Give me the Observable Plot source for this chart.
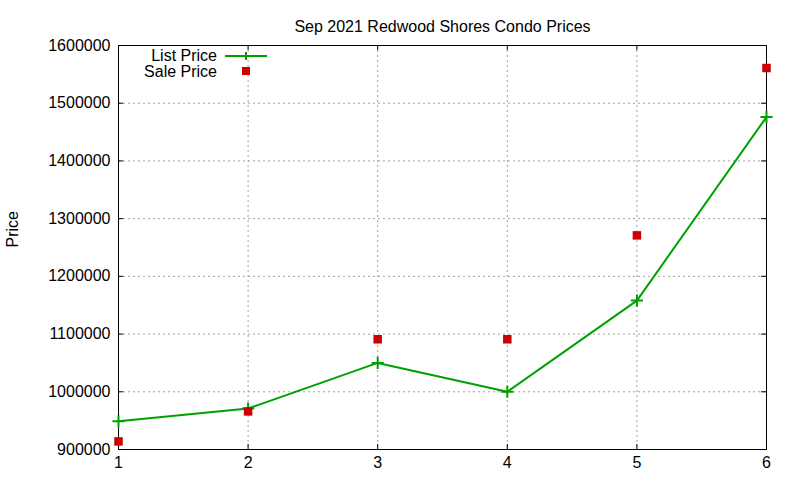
<!DOCTYPE html>
<html>
<head>
<meta charset="utf-8">
<script src="https://cdn.jsdelivr.net/npm/d3@7"></script>
<script src="https://cdn.jsdelivr.net/npm/@observablehq/plot@0.6"></script>
<style>
  html, body { margin: 0; padding: 0; background: #fff; }
  #wrap { position: relative; width: 800px; height: 480px; font-family: "Liberation Sans", Arial, sans-serif; }
  #legend { position: absolute; left: 100px; top: 45px; }
</style>
</head>
<body>
<div id="wrap">
  <div id="chart"></div>
  <svg id="legend" width="180" height="40"></svg>
</div>
<script>
const months = [1, 2, 3, 4, 5, 6];
const listPrice = [949000, 971000, 1050000, 1000000, 1158000, 1476000];
const salePrice = [914000, 966000, 1091000, 1091000, 1271000, 1561000];
const yTicks = [900000, 1000000, 1100000, 1200000, 1300000, 1400000, 1500000, 1600000];
const xTicks = [1, 2, 3, 4, 5, 6];
const seriesNames = ["List Price", "Sale Price"];
const colors = ["#00a000", "#cc0000"];
const title = "Sep 2021 Redwood Shores Condo Prices";
const yLabel = "Price";

const listData = months.map((m, i) => ({month: m, price: listPrice[i]}));
const saleData = months.map((m, i) => ({month: m, price: salePrice[i]}));

const W = 800, H = 480, mL = 118, mR = 34, mT = 45, mB = 31;
const innerW = W - mL - mR, innerH = H - mT - mB;
const tk = 5;
const fs = 16;
const font = "Liberation Sans, Arial, sans-serif";

const chart = Plot.plot({
  width: W, height: H,
  marginLeft: mL, marginRight: mR, marginTop: mT, marginBottom: mB,
  style: {fontFamily: font, fontSize: fs + "px", color: "#000", background: "#fff"},
  x: {domain: [1, 6]},
  y: {domain: [900000, 1600000]},
  marks: [
    Plot.gridX(xTicks, {stroke: "#a0a0a0", strokeOpacity: 1, strokeDasharray: "2,3", strokeWidth: 1}),
    Plot.gridY(yTicks, {stroke: "#a0a0a0", strokeOpacity: 1, strokeDasharray: "2,3", strokeWidth: 1}),
    // inward ticks, mirrored
    Plot.tickY(yTicks, {y: d => d, insetRight: innerW - tk, stroke: "#000"}),
    Plot.tickY(yTicks, {y: d => d, insetLeft: innerW - tk, stroke: "#000"}),
    Plot.tickX(xTicks, {x: d => d, insetTop: innerH - tk, stroke: "#000"}),
    Plot.tickX(xTicks, {x: d => d, insetBottom: innerH - tk, stroke: "#000"}),
    Plot.axisY(yTicks, {tickSize: 0, tickPadding: 8, fontSize: fs, tickFormat: d => String(d), label: null}),
    Plot.axisX(xTicks, {tickSize: 0, tickPadding: 7, fontSize: fs, tickFormat: d => String(d), label: null}),
    Plot.frame({stroke: "#000", strokeWidth: 1}),
    Plot.line(listData, {x: "month", y: "price", stroke: colors[0], strokeWidth: 2}),
    Plot.dot(listData, {x: "month", y: "price", symbol: "plus", r: 4, stroke: colors[0], strokeWidth: 2}),
    Plot.dot(saleData, {x: "month", y: "price", symbol: "square", r: 4.8, fill: colors[1], stroke: "none"}),
    Plot.text([title], {frameAnchor: "top", dy: -25, fontSize: fs, fill: "#000"}),
    Plot.text([yLabel], {frameAnchor: "left", rotate: -90, dx: -106, fontSize: fs, fill: "#000"})
  ]
});
document.getElementById("chart").appendChild(chart);

// legend
const lg = d3.select("#legend");
seriesNames.forEach((name, i) => {
  const cy = 10 + i * 16;
  lg.append("text").attr("x", 117).attr("y", cy).attr("dy", "0.35em")
    .attr("text-anchor", "end").attr("font-family", font).attr("font-size", fs).text(name);
  if (i === 0) {
    lg.append("line").attr("x1", 125).attr("x2", 167).attr("y1", cy + 1).attr("y2", cy + 1)
      .attr("stroke", colors[0]).attr("stroke-width", 2);
    lg.append("path").attr("d", `M142,${cy + 1}h8M146,${cy - 3}v8`).attr("stroke", colors[0]).attr("stroke-width", 2);
  } else {
    lg.append("rect").attr("x", 142).attr("y", cy - 4).attr("width", 8).attr("height", 8).attr("fill", colors[1]);
  }
});
</script>
</body>
</html>
